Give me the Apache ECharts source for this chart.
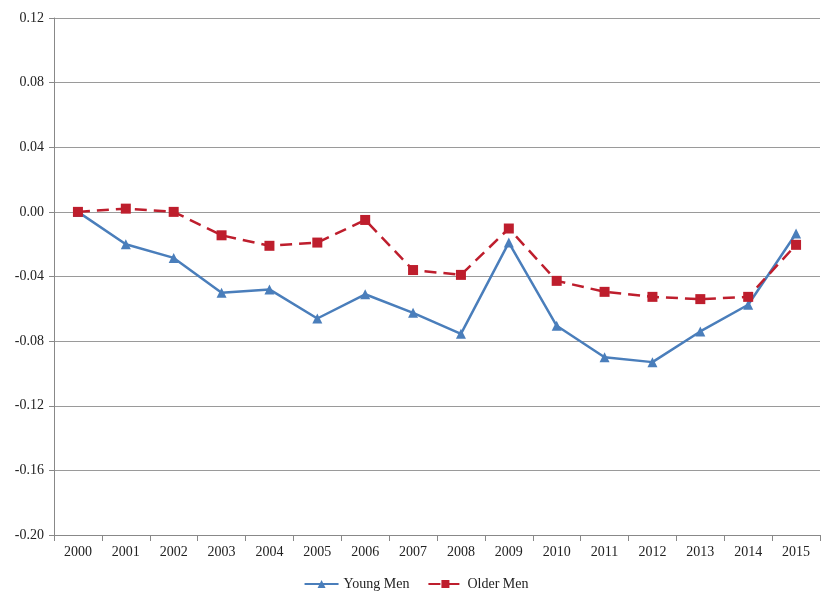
<!DOCTYPE html>
<html>
<head>
<meta charset="utf-8">
<script src="https://cdn.jsdelivr.net/npm/echarts@6/dist/echarts.min.js"></script>
<style>
  html, body { margin: 0; padding: 0; background: #fff; }
  #chart { width: 832px; height: 602px; }
</style>
</head>
<body>
<div id="chart"></div>
<script>
// 数据
const years = ['2000', '2001', '2002', '2003', '2004', '2005', '2006', '2007',
  '2008', '2009', '2010', '2011', '2012', '2013', '2014', '2015']
const youngMen = [0, -0.020, -0.0285, -0.050, -0.048, -0.066, -0.051, -0.0625,
  -0.0755, -0.019, -0.0705, -0.090, -0.093, -0.074, -0.0575, -0.0134]
const olderMen = [0, 0.002, 0, -0.0145, -0.021, -0.019, -0.005, -0.036,
  -0.039, -0.0103, -0.0427, -0.0495, -0.0526, -0.054, -0.0526, -0.0204]

const font = 'Liberation Serif'
const chart = echarts.init(document.getElementById('chart'))

const option = {
  animation: false,
  textStyle: { fontFamily: font },
  grid: { left: 54, right: 12, top: 18, bottom: 67 },
  legend: {
    bottom: 6,
    left: 'center',
    itemWidth: 34,
    itemHeight: 10,
    itemGap: 18,
    textStyle: { fontFamily: font, fontSize: 14, color: '#222' },
    data: ['Young Men', 'Older Men']
  },
  xAxis: {
    type: 'category',
    data: years,
    boundaryGap: true,
    axisLine: { onZero: false, lineStyle: { color: '#888' } },
    axisTick: { show: true, length: 6, lineStyle: { color: '#888' } },
    axisLabel: { fontFamily: font, fontSize: 14, color: '#222', margin: 10 }
  },
  yAxis: {
    type: 'value',
    min: -0.20,
    max: 0.12,
    interval: 0.04,
    axisLine: { show: true, lineStyle: { color: '#888' } },
    axisTick: { show: true, length: 5, lineStyle: { color: '#888' } },
    splitLine: { lineStyle: { color: '#9a9a9a' } },
    axisLabel: {
      fontFamily: font, fontSize: 14, color: '#222', margin: 10,
      formatter: v => v.toFixed(2)
    }
  },
  series: [
    {
      name: 'Young Men',
      type: 'line',
      data: youngMen,
      symbol: 'triangle',
      symbolSize: 10,
      lineStyle: { color: '#4a7ebb', width: 2.5 },
      itemStyle: { color: '#4a7ebb' }
    },
    {
      name: 'Older Men',
      type: 'line',
      data: olderMen,
      symbol: 'rect',
      symbolSize: 10,
      lineStyle: { color: '#be1e2d', width: 2.5, type: [12, 7] },
      itemStyle: { color: '#be1e2d' }
    }
  ]
}

chart.setOption(option)
</script>
</body>
</html>
